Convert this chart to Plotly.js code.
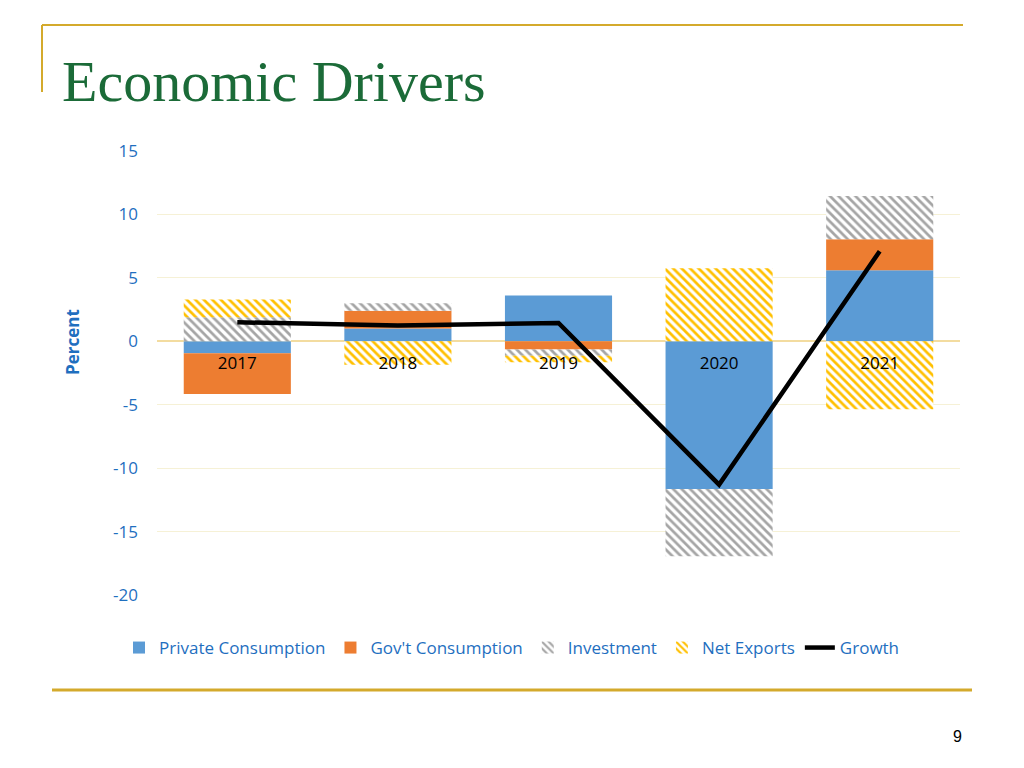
<!DOCTYPE html>
<html>
<head>
<meta charset="utf-8">
<script src="https://cdn.plot.ly/plotly-3.0.1.min.js"></script>
<style>html,body{margin:0;padding:0;background:#fff;}#chart{width:1024px;height:768px;}</style>
</head>
<body>
<div id="chart"></div>
<script>
const years = ['2017', '2018', '2019', '2020', '2021'];
const privateConsumption = [-0.95, 1.0, 3.6, -11.65, 5.6];
const govConsumption = [-3.2, 1.4, -0.65, 0, 2.45];
const investment = [1.9, 0.6, -0.5, -5.3, 3.4];
const netExports = [1.4, -1.85, -0.5, 5.75, -5.35];
const growth = [1.5, 1.25, 1.45, -11.3, 7.1];
const yTicks = [-20, -15, -10, -5, 0, 5, 10, 15];
const yTickText = ['-20', '-15', '-10', '-5', '0', '5', '10', '15'];

const blue = '#1f6fbf';
const gold = '#d4aa2c';

const traces = [
  {type: 'bar', name: 'Private Consumption', x: years, y: privateConsumption,
   marker: {color: '#5b9bd5', line: {width: 0}}},
  {type: 'bar', name: "Gov't Consumption", x: years, y: govConsumption,
   marker: {color: '#ed7d31', line: {width: 0}}},
  {type: 'bar', name: 'Investment', x: years, y: investment,
   marker: {color: 'white', line: {width: 0},
            pattern: {shape: '\\', fgcolor: '#a5a5a5', bgcolor: 'white', size: 6, solidity: 0.45}}},
  {type: 'bar', name: 'Net Exports', x: years, y: netExports,
   marker: {color: 'white', line: {width: 0},
            pattern: {shape: '\\', fgcolor: '#ffc000', bgcolor: 'white', size: 6, solidity: 0.45}}},
  {type: 'scatter', mode: 'lines', name: 'Growth', x: years, y: growth,
   line: {color: '#000000', width: 4.5}}
];

// plot area pixels: x 157..960, y 151..595
const px = p => (p - 157) / 803;
const py = p => (595 - p) / 444;

const layout = {
  width: 1024, height: 768,
  margin: {l: 157, r: 64, t: 151, b: 173},
  paper_bgcolor: 'white', plot_bgcolor: 'white',
  barmode: 'relative', bargap: 0.333,
  font: {family: 'Open Sans, sans-serif', color: blue},
  title: {text: 'Economic Drivers', xref: 'container', yref: 'container',
          x: 62 / 1024, xanchor: 'left', y: 1 - 81 / 768, yanchor: 'middle',
          font: {family: 'Liberation Serif, serif', size: 58, color: '#1b6b38'}},
  xaxis: {type: 'category', anchor: 'free', position: 20 / 35,
          showgrid: false, showline: false, zeroline: false,
          ticks: '', tickfont: {size: 17, color: '#000000'}, ticklabelstandoff: 10},
  yaxis: {range: [-20, 15], tickvals: yTicks, ticktext: yTickText,
          showgrid: true, gridcolor: '#f6f1d6', gridwidth: 1,
          zeroline: true, zerolinecolor: '#f3dca0', zerolinewidth: 2,
          showline: false, ticks: '', ticklabelstandoff: 18,
          tickfont: {size: 17, color: blue}},
  legend: {orientation: 'h', xref: 'container', yref: 'container',
           x: 0.5, xanchor: 'center', y: 1 - 648 / 768, yanchor: 'middle',
           font: {size: 17, color: blue}, itemwidth: 30, traceorder: 'normal'},
  shapes: [
    {type: 'line', xref: 'paper', yref: 'paper', x0: px(42), x1: px(963), y0: py(25), y1: py(25),
     line: {color: gold, width: 2}},
    {type: 'line', xref: 'paper', yref: 'paper', x0: px(42), x1: px(42), y0: py(25), y1: py(92),
     line: {color: gold, width: 2}},
    {type: 'line', xref: 'paper', yref: 'paper', x0: px(52), x1: px(972), y0: py(690), y1: py(690),
     line: {color: gold, width: 3}}
  ],
  annotations: [
    {text: '<b>Percent</b>', xref: 'paper', yref: 'paper', x: px(72), y: py(342),
     xanchor: 'center', yanchor: 'middle', showarrow: false, textangle: -90,
     font: {family: 'Open Sans, sans-serif', size: 17, color: blue}},
    {text: '9', xref: 'paper', yref: 'paper', x: px(957), y: py(736),
     xanchor: 'center', yanchor: 'middle', showarrow: false,
     font: {family: 'Liberation Sans, sans-serif', size: 16, color: '#000000'}}
  ]
};

Plotly.newPlot('chart', traces, layout, {displayModeBar: false, staticPlot: true});
</script>
</body>
</html>
